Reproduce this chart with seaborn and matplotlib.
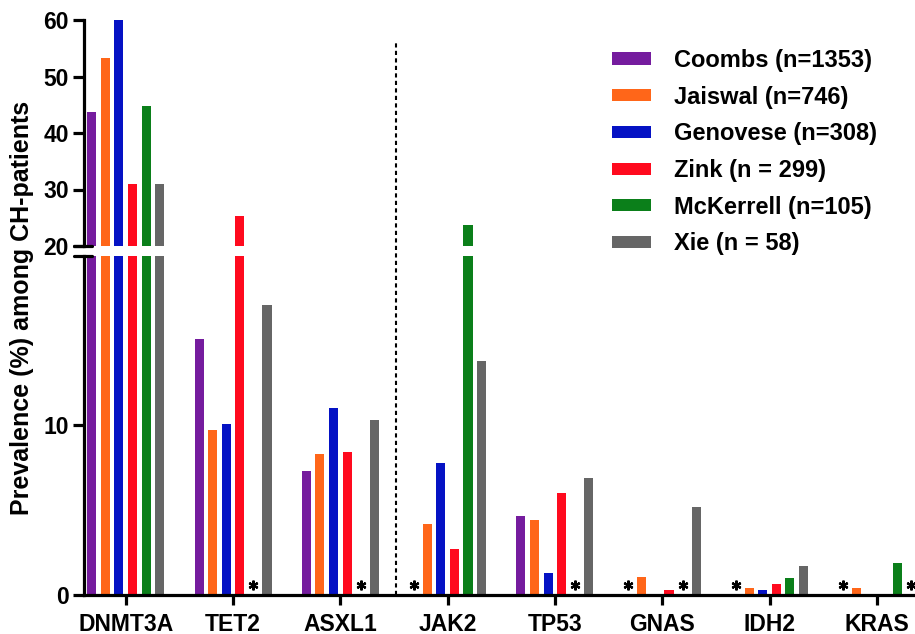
import numpy as np
import pandas as pd
import matplotlib
matplotlib.use("Agg")
import matplotlib.pyplot as plt
import seaborn as sns

# Genes on the x axis
genes = ["DNMT3A", "TET2", "ASXL1", "JAK2", "TP53", "GNAS", "IDH2", "KRAS"]

# Prevalence (%) per study, None = not analysed (shown as *)
coombs = [43.7, 15.1, 7.3, None, 4.65, None, None, None]
jaiswal = [53.3, 9.7, 8.3, 4.15, 4.4, 1.05, 0.38, 0.38]
genovese = [60.0, 10.1, 11.0, 7.8, 1.3, 0.0, 0.26, 0.0]
zink = [31.0, 25.3, 8.4, 2.7, 6.0, 0.26, 0.65, 0.0]
mckerrell = [44.7, None, None, 23.7, None, None, 1.0, 1.9]
xie = [31.0, 17.1, 10.3, 13.8, 6.9, 5.2, 1.7, None]

studies = ["Coombs (n=1353)", "Jaiswal (n=746)", "Genovese (n=308)",
           "Zink (n = 299)", "McKerrell (n=105)", "Xie (n = 58)"]
colors = ["#751c9e", "#ff6619", "#0512c4", "#ff0a1e", "#0b7f1a", "#666666"]

series = [coombs, jaiswal, genovese, zink, mckerrell, xie]
rows = []
for study, vals in zip(studies, series):
    for g, v in zip(genes, vals):
        rows.append({"gene": g, "study": study,
                     "value": np.nan if v is None else v,
                     "missing": v is None})
df = pd.DataFrame(rows)
df["plot_value"] = df["value"].fillna(0)

sns.set_style("ticks")
plt.rcParams["font.family"] = ["Liberation Sans", "DejaVu Sans"]
plt.rcParams["font.weight"] = "bold"
for k in ("text.color", "axes.labelcolor", "axes.edgecolor",
          "xtick.color", "ytick.color"):
    plt.rcParams[k] = "black"

fig = plt.figure(figsize=(9.15, 6.34), dpi=100)
W, H = 915, 634
ax_top = fig.add_axes([84 / W, 1 - 246 / H, 831 / W, 226 / H])
ax_bot = fig.add_axes([84 / W, 1 - 594.7 / H, 831 / W, 338.7 / H])

for ax in (ax_top, ax_bot):
    sns.barplot(data=df, x="gene", y="plot_value", hue="study", order=genes,
                hue_order=studies, palette=colors, saturation=1, width=0.76,
                gap=0.33, linewidth=0, errorbar=None, ax=ax,
                legend=(ax is ax_bot))
    ax.set_xlim(-0.389, 7.356)
    ax.set_xlabel("")
    ax.set_ylabel("")
    ax.tick_params(axis="y", length=8, width=2.3, labelsize=16.5, pad=3)
    for s in ("left", "bottom"):
        ax.spines[s].set_linewidth(2.3)
    sns.despine(ax=ax)

ax_top.set_ylim(20, 60)
ax_top.set_yticks([20, 30, 40, 50, 60])
ax_top.spines["bottom"].set_visible(False)
ax_top.tick_params(axis="x", bottom=False, labelbottom=False)

ax_bot.set_ylim(0, 20)
ax_bot.set_yticks([0, 10])
ax_bot.tick_params(axis="x", length=7, width=2.3, labelsize=16.5, pad=6)

# break marks on the y axis
kw = dict(color="black", lw=2.3, clip_on=False)
ax_top.plot([-10 / 831, 8 / 831], [0, 0], transform=ax_top.transAxes, **kw)
ax_bot.plot([-10 / 831, 8 / 831], [1, 1], transform=ax_bot.transAxes, **kw)

# dashed separator between ASXL1 and JAK2
ax_bot.axvline(2.52, ymin=0, ymax=(594.7 - 41.7) / 338.7, color="black",
               lw=1.5, linestyle=(0, (2, 1.6)), clip_on=False)

# asterisks for studies that did not analyse the gene
for i, study in enumerate(studies):
    bars = ax_bot.containers[i]
    for j, g in enumerate(genes):
        if df[(df.study == study) & (df.gene == g)]["missing"].iloc[0]:
            b = bars[j]
            ax_bot.plot(b.get_x() + b.get_width() / 2, 0.55, marker=(6, 2, 0),
                        markersize=7, color="black", markeredgewidth=1.6,
                        clip_on=False)

handles, labels = ax_bot.get_legend_handles_labels()
ax_bot.get_legend().remove()
fig.legend(handles, labels, loc="upper left", bbox_to_anchor=(612 / W, 1 - 49 / H),
           frameon=False, fontsize=17, handlelength=1.65, handleheight=0.42,
           handletextpad=0.97, labelspacing=0.58, borderpad=0, borderaxespad=0)

fig.text(0.024, 0.515, "Prevalence (%) among CH-patients", rotation=90,
         ha="center", va="center", fontsize=18, fontweight="bold")

fig.savefig("out.png", dpi=100)
